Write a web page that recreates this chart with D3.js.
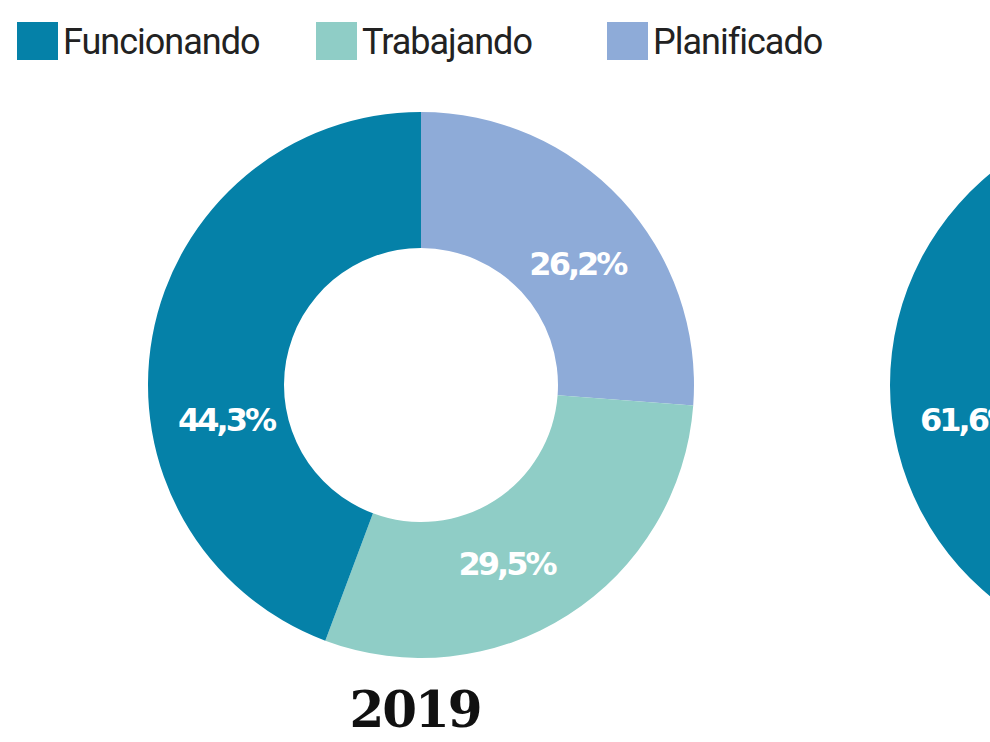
<!DOCTYPE html>
<html>
<head>
<meta charset="utf-8">
<script src="https://cdn.jsdelivr.net/npm/d3@7"></script>
<style>
  body { margin: 0; background: #fff; overflow: hidden; }
</style>
</head>
<body>
<svg id="chart" width="990" height="742"></svg>
<script>
var categories = ["Planificado", "Trabajando", "Funcionando"];
var legendOrder = ["Funcionando", "Trabajando", "Planificado"];
var years = ["2019", "2020"];
var values2019 = [26.2, 29.5, 44.3];
var values2020 = [14.3, 24.1, 61.6];
var labels2019 = ["26,2%", "29,5%", "44,3%"];
var labels2020 = ["14,3%", "24,1%", "61,6%"];
// label angle offset (degrees) inside each slice
var labelShift = [5, 7, -20];

var color = d3.scaleOrdinal()
  .domain(["Funcionando", "Trabajando", "Planificado"])
  .range(["#0581a8", "#8fcdc6", "#8eabd8"]);

var svg = d3.select("#chart");

// leyenda
var legX = [17, 316, 607];
var leg = svg.selectAll("g.leg").data(legendOrder).enter().append("g")
  .attr("transform", function(d, i){ return "translate(" + legX[i] + ",22)"; });
leg.append("rect").attr("width", 41).attr("height", 38).attr("fill", function(d){ return color(d); });
leg.append("text").attr("x", 46).attr("y", 32)
  .style("font-family", "'Liberation Sans Narrow', 'Roboto', sans-serif")
  .style("font-size", "36px").style("letter-spacing", "-1px")
  .attr("fill", "#222").text(function(d){ return d; });

var pie = d3.pie().sort(null).value(function(d){ return d; });
var arc = d3.arc().innerRadius(137).outerRadius(273);

function donut(cx, vals, labs, year) {
  var g = svg.append("g").attr("transform", "translate(" + cx + ",385)");
  var arcs = pie(vals);
  g.selectAll("path").data(arcs).enter().append("path")
    .attr("d", arc)
    .attr("fill", function(d, i){ return color(categories[i]); });
  g.selectAll("text.lab").data(arcs).enter().append("text")
    .attr("class", "lab")
    .attr("transform", function(d, i){
      var a = (d.startAngle + d.endAngle) / 2 + labelShift[i] * Math.PI / 180;
      if (i === 2) a = d.endAngle - (100 * Math.PI / 180);
      return "translate(" + (198 * Math.sin(a)) + "," + (-198 * Math.cos(a)) + ")";
    })
    .attr("text-anchor", "middle").attr("dy", "0.35em")
    .style("font-family", "'DejaVu Sans', sans-serif").style("font-weight", "bold")
    .style("font-size", "32px").style("letter-spacing", "-3px")
    .attr("fill", "#fff")
    .text(function(d, i){ return labs[i]; });
  g.append("text").attr("x", -6).attr("y", 342).attr("text-anchor", "middle")
    .style("font-family", "'DejaVu Serif', 'Liberation Serif', serif").style("font-weight", "bold")
    .style("font-size", "50px").style("letter-spacing", "-2px")
    .attr("fill", "#111").text(year);
}

donut(421, values2019, labels2019, years[0]);
donut(1163, values2020, labels2020, years[1]);
</script>
</body>
</html>
